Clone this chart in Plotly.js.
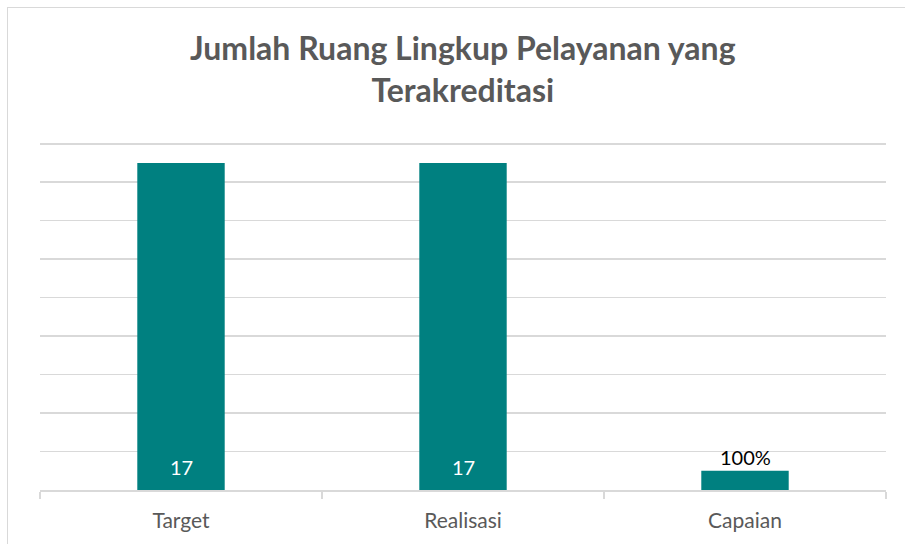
<!DOCTYPE html>
<html>
<head>
<meta charset="utf-8">
<script src="https://cdn.plot.ly/plotly-3.0.1.min.js"></script>
<style>
html,body{margin:0;padding:0;background:#fff;}
#wrap{position:relative;width:905px;height:544px;overflow:hidden;}
#chart{width:905px;height:544px;}
#frame{position:absolute;left:7px;top:7px;width:1000px;height:1000px;border-left:1.5px solid #d9d9d9;border-top:1.5px solid #d9d9d9;pointer-events:none;}
</style>
</head>
<body>
<div id="wrap"><div id="chart"></div><div id="frame"></div></div>
<script>
const categories = ['Target', 'Realisasi', 'Capaian'];
const values = [17, 17, 1];
const labels = ['17', '17', '100%'];
const labelInside = [true, true, false];
const yTicks = [0, 2, 4, 6, 8, 10, 12, 14, 16, 18];
const titleLines = ['Jumlah Ruang Lingkup Pelayanan yang', 'Terakreditasi'];

const FONT = 'Lato, Open Sans, Arial, sans-serif';

const annotations = categories.map((c, i) => labelInside[i] ? {
  x: c, y: 0, xref: 'x', yref: 'y', text: labels[i], showarrow: false,
  yanchor: 'middle', yshift: 23,
  font: {family: FONT, size: 20, color: '#ffffff'}
} : {
  x: c, y: values[i], xref: 'x', yref: 'y', text: labels[i], showarrow: false,
  yanchor: 'middle', yshift: 14,
  font: {family: FONT, size: 20, color: '#000000'}
});

annotations.push({
  xref: 'paper', yref: 'paper', x: 0.5, y: 1.197, xanchor: 'center', yanchor: 'middle',
  text: '<b>' + titleLines.join('<br>') + '</b>', showarrow: false,
  font: {family: FONT, size: 32, color: '#595959'}
});

Plotly.newPlot('chart', [{
  type: 'bar',
  x: categories,
  y: values,
  marker: {color: '#008080'},
  hoverinfo: 'none'
}], {
  width: 905,
  height: 544,
  margin: {l: 40, r: 19, t: 138, b: 54},
  paper_bgcolor: '#ffffff',
  plot_bgcolor: '#ffffff',
  bargap: 0.69,
  annotations: annotations,
  xaxis: {
    showgrid: false,
    showline: true,
    linecolor: '#d9d9d9',
    linewidth: 1.5,
    ticks: 'outside',
    tickson: 'boundaries',
    ticklen: 7,
    tickcolor: '#d9d9d9',
    tickwidth: 1.5,
    ticklabelstandoff: 11,
    tickfont: {family: FONT, size: 21, color: '#595959'},
    fixedrange: true
  },
  yaxis: {
    range: [0, 18.3],
    tickvals: yTicks,
    showticklabels: false,
    showgrid: true,
    gridcolor: '#d9d9d9',
    gridwidth: 1.5,
    zeroline: false,
    showline: false,
    fixedrange: true
  },
  showlegend: false
}, {displayModeBar: false, staticPlot: true});
</script>
</body>
</html>
